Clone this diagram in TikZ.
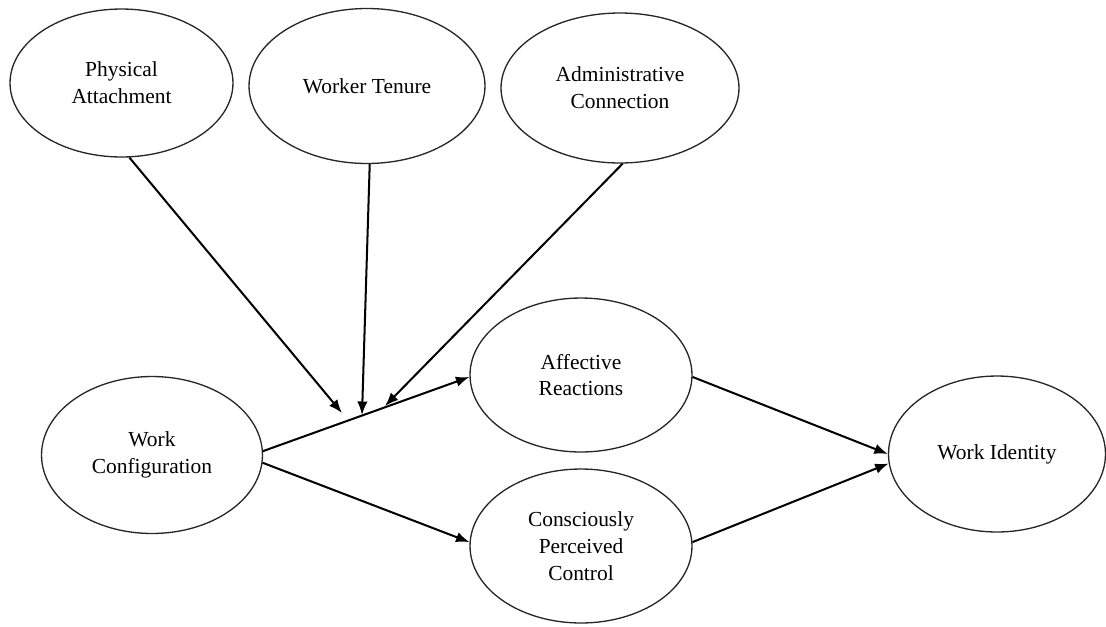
\documentclass[tikz,border=0pt]{standalone}
\usepackage{fontspec}
\setmainfont{Liberation Serif}
\usetikzlibrary{shapes.geometric, arrows.meta}

\begin{document}
\begin{tikzpicture}[x=0.02cm, y=-0.02cm,
          construct/.style={ellipse, draw=black!85, line width=0.75pt,
                            inner sep=0pt, align=center,
                            font=\fontsize{12.2}{15.2}\selectfont,
                            minimum width=4.44cm, minimum height=3.08cm},
          arr/.style={-{Latex[length=0.27cm, width=0.21cm]},
                      line width=1.15pt, black}
        ]
        \useasboundingbox (0,0) rectangle (1106,626);
        %% Moderators (top row)
        \node[construct, minimum width=4.46cm, minimum height=2.96cm]
              (pa) at (121.5,83) {Physical\\Attachment};
        \node[construct, minimum width=4.72cm, minimum height=3.10cm]
              (wt) at (367,86) {Worker Tenure};
        \node[construct, minimum width=4.76cm, minimum height=3.00cm]
              (ac) at (620,88) {Administrative\\Connection};
        %% Main path
        \node[construct, minimum width=4.42cm, minimum height=3.14cm]
              (wc) at (152,455) {Work\\Configuration};
        \node[construct] (ar) at (581,375) {Affective\\Reactions};
        \node[construct] (cpc) at (581,546)
              {Consciously\\Perceived\\Control};
        \node[construct, minimum width=4.34cm, minimum height=3.12cm]
              (wi) at (997,454) {Work Identity};
        %% Points where the moderators meet the path
        \coordinate (j1) at (342,413);
        \coordinate (j2) at (362,415);
        \coordinate (j3) at (385,406);
        %% Arrows
        \draw[arr] (wc.2) -- (ar.181);
        \draw[arr] (wc.-4) -- (cpc.178);
        \draw[arr] (ar.-1) -- (wi.180);
        \draw[arr] (cpc.2) -- (wi.185);
        \draw[arr] (pa.-84) -- (j1);
        \draw[arr] (wt.-88) -- (j2);
        \draw[arr] (ac.-88) -- (j3);
      \end{tikzpicture}
\end{document}
